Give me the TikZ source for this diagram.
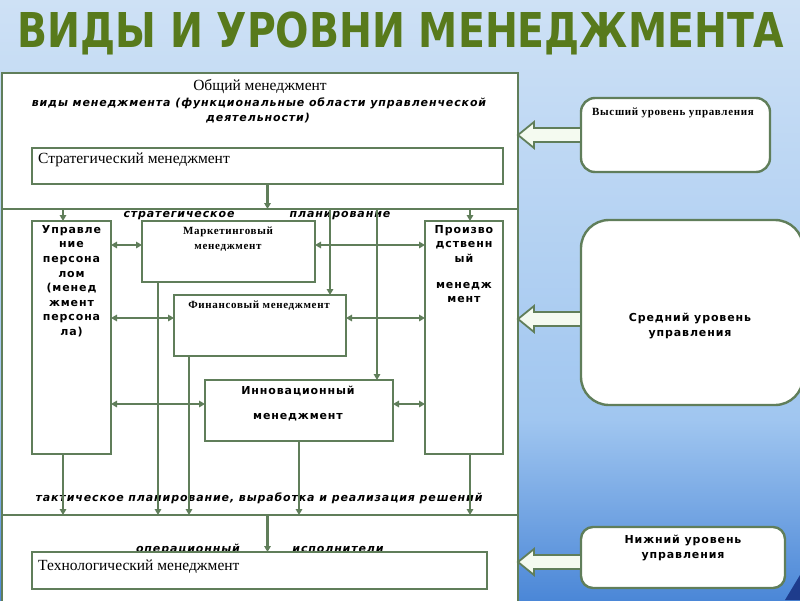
\documentclass[tikz,border=0pt]{standalone}
\usepackage{fontspec}
\setmainfont{Liberation Serif}
\newfontfamily\dvs{DejaVu Sans}[LetterSpace=8]
\newfontfamily\dvsT{DejaVu Sans}
\newfontfamily\serSp{Liberation Serif}[LetterSpace=6]
\usetikzlibrary{arrows.meta}
\definecolor{lgreen}{RGB}{96,126,90}
\definecolor{ttl}{RGB}{88,122,28}
\definecolor{bgtop}{RGB}{206,225,245}
\definecolor{bgmid}{RGB}{160,198,240}
\definecolor{bgbot}{RGB}{75,135,215}
\definecolor{navy}{RGB}{30,60,140}
\definecolor{afill}{RGB}{244,250,240}
\tikzset{
  frame/.style={draw=lgreen, line width=2.4pt, fill=white, inner sep=0pt, outer sep=0pt},
  box/.style={draw=lgreen, line width=2.4pt, fill=white, inner sep=0pt, outer sep=0pt},
  rbox/.style={draw=lgreen, line width=2.4pt, fill=white, inner sep=0pt, outer sep=0pt},
  ln/.style={draw=lgreen, line width=2.4pt},
  con/.style={draw=lgreen, line width=2.2pt, -{Triangle[length=6pt,width=6.5pt]}},
  dcon/.style={draw=lgreen, line width=2.2pt, {Triangle[length=6pt,width=6.5pt]}-{Triangle[length=6pt,width=6.5pt]}},
  barrow/.style={draw=lgreen, line width=1.8pt, fill=afill, line join=miter},
  sertext/.style={font=\fontsize{15.5}{17}\selectfont, inner sep=0pt},
  serb/.style={font=\serSp\bfseries\fontsize{11}{15}\selectfont, inner sep=0pt, align=center},
  sansb/.style={font=\dvs\bfseries\fontsize{11}{14.6}\selectfont, inner sep=0pt, align=center},
  bit/.style={font=\dvs\bfseries\itshape\fontsize{11}{14}\selectfont, inner sep=0pt},
  ttlstyle/.style={font=\dvsT\bfseries\fontsize{48}{48}\selectfont, text=ttl, inner sep=0pt}
}
\newcommand\larrow[1]{%
  \draw[barrow] ([yshift=7pt]#1) -- ++(-47pt,0pt) -- ++(0pt,6pt) -- ++(-16pt,-13pt)
     -- ++(16pt,-13pt) -- ++(0pt,6pt) -- ([yshift=-7pt]#1) -- cycle;}
\begin{document}
\begin{tikzpicture}[x=1pt,y=-1pt]
\useasboundingbox (0,0) rectangle (800,600);
% background
\shade[top color=bgtop, bottom color=bgmid] (0,0) rectangle (800,420);
\shade[top color=bgmid, bottom color=bgbot] (0,419.5) rectangle (800,600);
\fill[navy] (785,600) -- (800,575) -- (800,600) -- cycle;
% title
\node[ttlstyle, anchor=base] (title) at (401,47) {\scalebox{0.82}[1]{ВИДЫ И УРОВНИ МЕНЕДЖМЕНТА}};
% main frame
\node[frame, anchor=north west, minimum width=516pt, minimum height=532pt] (main) at (2,73) {};
\coordinate (d1) at (0,209);
\coordinate (d2) at (0,515);
\draw[ln] (main.west |- d1) -- (main.east |- d1);
\draw[ln] (main.west |- d2) -- (main.east |- d2);
% header texts
\node[sertext] (obsh) at (260,87) {Общий менеджмент};
\node[bit] (vidy) at (259,103) {виды менеджмента (функциональные области управленческой};
\node[bit] (deyat) at (258,118) {деятельности)};
\node[bit] (strpl1) at (179,216) {стратегическое};
\node[bit] (strpl2) at (340,216) {планирование};
\node[bit] (takt) at (259,498) {тактическое планирование, выработка и реализация решений};
\node[bit] (oper1) at (188,549.5) {операционный};
\node[bit] (oper2) at (338,549.5) {исполнители};
% boxes
\node[box, anchor=north west, minimum width=471pt, minimum height=36pt] (strat) at (32,148) {};
\node[sertext, anchor=west] (stratt) at (38,160) {Стратегический менеджмент};
\node[box, anchor=north west, minimum width=79pt, minimum height=233pt] (upr) at (32,221) {};
\node[box, anchor=north west, minimum width=173pt, minimum height=61pt] (mark) at (142,221) {};
\node[box, anchor=north west, minimum width=172pt, minimum height=61pt] (fin) at (174,295) {};
\node[box, anchor=north west, minimum width=78pt, minimum height=233pt] (prod) at (425,221) {};
\node[box, anchor=north west, minimum width=188pt, minimum height=61pt] (inn) at (205,380) {};
\node[box, anchor=north west, minimum width=455pt, minimum height=37pt] (tech) at (32,552) {};
\node[sertext, anchor=west] (techt) at (38,567) {Технологический менеджмент};
% box texts
\node[sansb, anchor=north] (uprt) at (71.5,225) {Управле\\ние\\персона\\лом\\(менед\\жмент\\персона\\ла)};
\node[sansb, anchor=north] (prodt) at (464,225) {Произво\\дственн\\ый\\[11pt]менедж\\мент};
\node[serb] (markt) at (228,239.5) {Маркетинговый\\менеджмент};
\node[serb] (fint) at (259,306) {Финансовый менеджмент};
\node[sansb, font=\dvs\bfseries\fontsize{11}{25}\selectfont] (innt) at (298,403.5) {Инновационный\\менеджмент};
% x positions
\coordinate (xa) at (63,0);
\coordinate (xb) at (158,0);
\coordinate (xc) at (330,0);
\coordinate (xd) at (377,0);
\coordinate (xe) at (189,0);
\coordinate (xp) at (470,0);
\coordinate (ya) at (0,245);
\coordinate (yb) at (0,318);
\coordinate (yc) at (0,404);
% vertical connectors
\draw[con] (strat.south) -- (strat.south |- d1);
\draw[con] (xa |- d1) -- (xa |- upr.north);
\draw[con] (xp |- d1) -- (xp |- prod.north);
\draw[con] (xc |- d1) -- (xc |- fin.north);
\draw[con] (xd |- d1) -- (xd |- inn.north);
\draw[con] (xa |- upr.south) -- (xa |- d2);
\draw[con] (xb |- mark.south) -- (xb |- d2);
\draw[con] (xe |- fin.south) -- (xe |- d2);
\draw[con] (inn.south) -- (inn.south |- d2);
\draw[con] (xp |- prod.south) -- (xp |- d2);
\draw[con] (strat.south |- d2) -- (strat.south |- tech.north);
% horizontal connectors
\draw[dcon] (upr.east |- ya) -- (mark.west |- ya);
\draw[dcon] (mark.east |- ya) -- (prod.west |- ya);
\draw[dcon] (upr.east |- yb) -- (fin.west |- yb);
\draw[dcon] (fin.east |- yb) -- (prod.west |- yb);
\draw[dcon] (upr.east |- yc) -- (inn.west |- yc);
\draw[dcon] (inn.east |- yc) -- (prod.west |- yc);
% right boxes
\node[rbox, rounded corners=14pt, anchor=north west, minimum width=189pt, minimum height=74pt] (high) at (581,98) {};
\node[rbox, rounded corners=28pt, anchor=north west, minimum width=222pt, minimum height=185pt] (mid) at (581,220) {};
\node[rbox, rounded corners=12pt, anchor=north west, minimum width=204pt, minimum height=61pt] (low) at (581,527) {};
\node[serb] (hight) at (673,113) {Высший уровень управления};
\node[sansb] (midt) at (690,326) {Средний уровень\\управления};
\node[sansb] (lowt) at (683,548) {Нижний уровень\\управления};
\coordinate (ha) at (high.west);
\coordinate (ma) at ([yshift=-6.5pt]mid.west);
\coordinate (la) at ([yshift=-4.5pt]low.west);
\larrow{ha}
\larrow{ma}
\larrow{la}
\end{tikzpicture}
\end{document}
